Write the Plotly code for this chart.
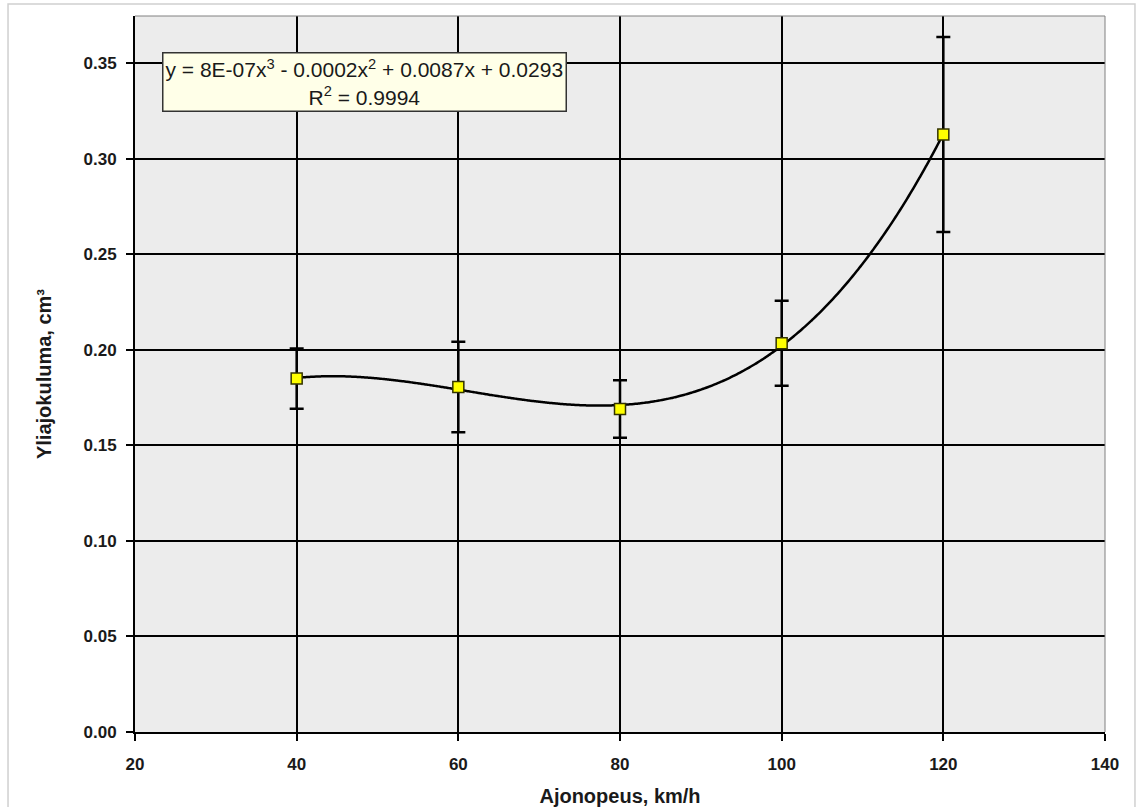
import numpy as np
import plotly.graph_objects as go

# Data
speed_kmh = [40, 60, 80, 100, 120]
wear_cm3 = [0.1849, 0.1805, 0.1690, 0.2034, 0.3126]
wear_err = [0.0158, 0.0237, 0.0150, 0.0222, 0.0510]
x_ticks = [20, 40, 60, 80, 100, 120, 140]
y_ticks = [0.00, 0.05, 0.10, 0.15, 0.20, 0.25, 0.30, 0.35]

# Cubic trendline (as in the spreadsheet)
coef = np.polyfit(speed_kmh, wear_cm3, 3)
xs = np.linspace(min(speed_kmh), max(speed_kmh), 300)
ys = np.polyval(coef, xs)

fig = go.Figure()
fig.add_trace(go.Scatter(x=xs, y=ys, mode="lines",
                         line=dict(color="black", width=2.5, shape="spline"),
                         hoverinfo="skip", showlegend=False))
fig.add_trace(go.Scatter(
    x=speed_kmh, y=wear_cm3, mode="markers",
    marker=dict(symbol="square", size=11, color="#ffff00",
                line=dict(color="#333300", width=1.5)),
    error_y=dict(type="data", array=wear_err, visible=True,
                 color="black", thickness=2.5, width=7),
    showlegend=False))

font_family = "Liberation Sans, Arial, sans-serif"
fig.update_layout(
    width=1145, height=807,
    margin=dict(l=135, r=40, t=16, b=75),
    paper_bgcolor="white",
    plot_bgcolor="#ececec",
    font=dict(family=font_family, color="#1a1a1a"),
    xaxis=dict(range=[20, 140], tickvals=x_ticks, ticktext=["%d" % v for v in x_ticks],
               showgrid=True, gridcolor="black", gridwidth=1.5,
               showline=True, linecolor="black", linewidth=2,
               ticks="outside", ticklen=7, tickcolor="black", tickwidth=1.5,
               ticklabelstandoff=9, automargin=False,
               tickfont=dict(size=17, family=font_family, color="#1a1a1a", weight="bold"),
               title=dict(text="Ajonopeus, km/h",
                          font=dict(size=20, family=font_family, weight="bold"), standoff=16),
               zeroline=False),
    yaxis=dict(range=[0, 0.3746], tickvals=y_ticks, ticktext=["%.2f" % v for v in y_ticks],
               showgrid=True, gridcolor="black", gridwidth=1.5,
               showline=True, linecolor="black", linewidth=2,
               ticks="outside", ticklen=7, tickcolor="black", tickwidth=1.5,
               ticklabelstandoff=6, automargin=False,
               tickfont=dict(size=17, family=font_family, color="#1a1a1a", weight="bold"),
               title=dict(text="Yliajokuluma, cm³",
                          font=dict(size=20, family=font_family, weight="bold"), standoff=27),
               zeroline=False),
)

# top/right thin gray border of the plot area
fig.add_shape(type="line", xref="paper", yref="paper", x0=0, x1=1, y0=1, y1=1,
              line=dict(color="#808080", width=1))
fig.add_shape(type="line", xref="paper", yref="paper", x0=1, x1=1, y0=0, y1=1,
              line=dict(color="#808080", width=1))
# outer chart border
fig.add_shape(type="rect", xref="paper", yref="paper",
              x0=-0.1309, x1=1.0309, y0=-0.12, y1=1.0168,
              line=dict(color="#d0d0d0", width=1.5), layer="below")

fig.add_annotation(
    xref="paper", yref="paper", x=(364 - 135) / 970, y=(731.5 - 82) / 715.5,
    xanchor="center", yanchor="middle",
    text="y = 8E-07x<sup>3</sup> - 0.0002x<sup>2</sup> + 0.0087x + 0.0293<br>R<sup>2</sup> = 0.9994",
    showarrow=False, align="center",
    font=dict(size=21, family=font_family, color="#1a1a1a"),
    bgcolor="#ffffe8", bordercolor="#333333", borderwidth=1.5, borderpad=2)

fig.write_html("out.html")
